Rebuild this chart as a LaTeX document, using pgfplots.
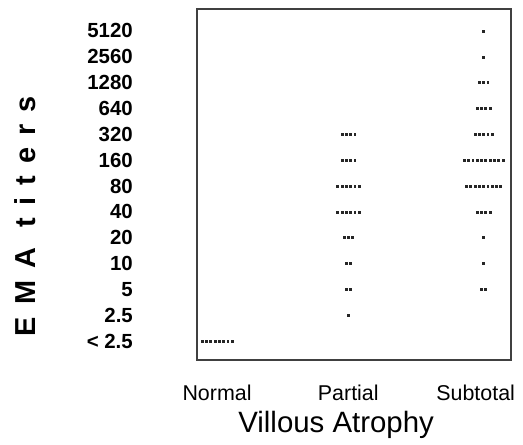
\documentclass[border=0pt]{standalone}
\usepackage{fontspec}
\setmainfont{Liberation Sans}
\usepackage{pgfplots}
\pgfplotsset{compat=1.18}
\begin{document}
\begin{tikzpicture}
\useasboundingbox (0,0) rectangle (523bp,445bp);
\begin{axis}[
  at={(197bp,85bp)}, anchor=south west,
  scale only axis, width=314bp, height=351bp,
  xmin=-0.154, xmax=2.262, ymin=-0.736, ymax=12.85,
  axis line style={black!75, line width=1.3bp},
  major tick length=0pt,
  xtick={0,1.01,1.99},
  xticklabels={Normal,Partial,Subtotal},
  xticklabel style={anchor=north, inner sep=0pt, yshift=-25bp, font=\fontsize{21.5}{24}\selectfont},
  ytick={0,1,2,3,4,5,6,7,8,9,10,11,12},
  yticklabels={< 2.5,2.5,5,10,20,40,80,160,320,640,1280,2560,5120},
  yticklabel style={anchor=east, inner sep=0pt, xshift=-64bp, font=\fontsize{20.5}{24}\bfseries},
  xlabel={Villous Atrophy},
  xlabel style={at={(axis description cs:0.443,0)}, anchor=north, inner sep=0pt, yshift=-51bp, font=\fontsize{29.5}{32}\selectfont},
  ylabel={\addfontfeatures{LetterSpace=42}EMA titers},
  ylabel style={at={(axis description cs:-0.548,0.41)}, anchor=center, inner sep=0pt, font=\fontsize{29}{32}\bfseries},
]
% Normal
\addplot[only marks, mark=square*, mark size=0.95bp, black!85] coordinates {
 (-0.1155,0) (-0.0825,0) (-0.0495,0) (-0.0165,0) (0.0165,0) (0.0495,0) (0.0825,0) (0.1155,0)
};
% Partial
\addplot[only marks, mark=square*, mark size=0.95bp, black!85] coordinates {
 (0.9605,8) (0.9935,8) (1.0265,8) (1.0595,8)
 (0.9605,7) (0.9935,7) (1.0265,7) (1.0595,7)
 (0.9275,6) (0.9605,6) (0.9935,6) (1.0265,6) (1.0595,6) (1.0925,6)
 (0.9275,5) (0.9605,5) (0.9935,5) (1.0265,5) (1.0595,5) (1.0925,5)
 (0.977,4) (1.01,4) (1.043,4)
 (0.9935,3) (1.0265,3)
 (0.9935,2) (1.0265,2)
 (1.01,1)
};
% Subtotal
\addplot[only marks, mark=square*, mark size=0.95bp, black!85] coordinates {
 (2.05,12)
 (2.05,11)
 (2.017,10) (2.05,10) (2.083,10)
 (2.0005,9) (2.0335,9) (2.0665,9) (2.0995,9)
 (1.984,8) (2.017,8) (2.05,8) (2.083,8) (2.116,8)
 (1.9015,7) (1.9345,7) (1.9675,7) (2.0005,7) (2.0335,7) (2.0665,7) (2.0995,7) (2.1325,7) (2.1655,7) (2.1985,7)
 (1.918,6) (1.951,6) (1.984,6) (2.017,6) (2.05,6) (2.083,6) (2.116,6) (2.149,6) (2.182,6)
 (2.0005,5) (2.0335,5) (2.0665,5) (2.0995,5)
 (2.05,4)
 (2.05,3)
 (2.0335,2) (2.0665,2)
};
\end{axis}
\end{tikzpicture}
\end{document}
